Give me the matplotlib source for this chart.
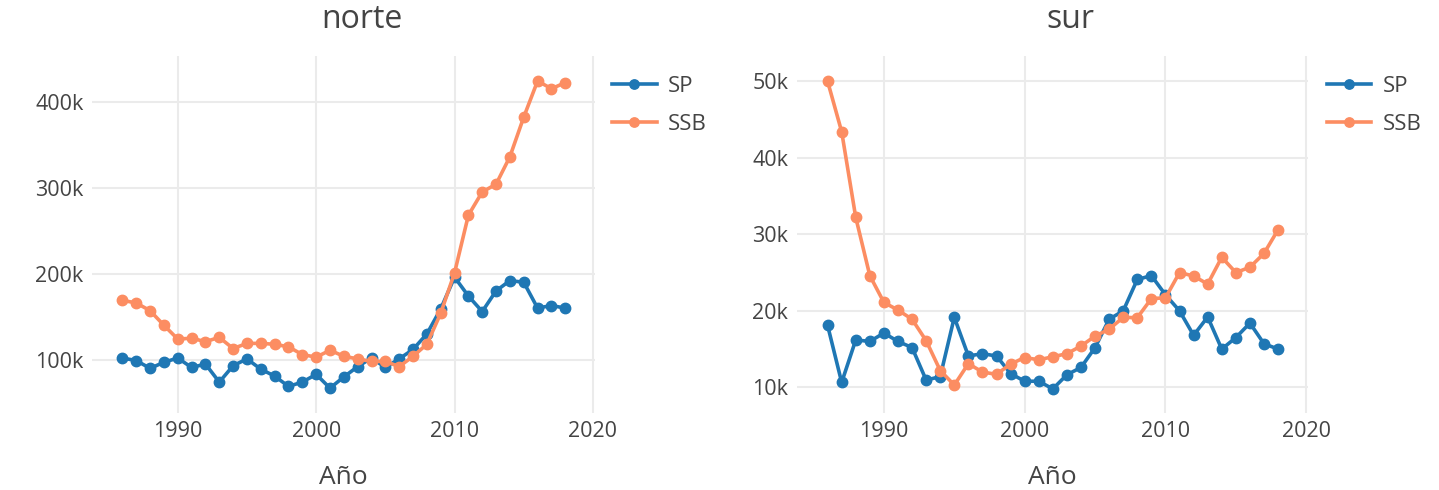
import matplotlib.pyplot as plt
from matplotlib.ticker import FuncFormatter

plt.rcParams["font.family"] = ["Open Sans", "DejaVu Sans"]

years = list(range(1986, 2019))

# norte
norte_sp = [102, 99, 90, 97, 102, 91, 95, 74, 93, 101, 89, 81, 69, 74, 83, 67, 80,
            92, 102, 91, 101, 112, 130, 159, 196, 174, 156, 180, 192, 190, 160, 163, 160]
norte_ssb = [169, 166, 157, 140, 124, 125, 121, 126, 113, 119, 119, 118, 115, 106, 103, 111, 104,
             101, 98, 98, 92, 104, 118, 154, 201, 268, 295, 304, 336, 382, 424, 415, 422]

# sur
sur_sp = [18.1, 10.65, 16.2, 16.0, 17.1, 16.0, 15.2, 10.95, 11.4, 19.15, 14.1, 14.4, 14.1, 11.8,
          10.8, 10.8, 9.8, 11.65, 12.6, 15.2, 18.9, 20.0, 24.1, 24.6, 22.1, 20.0, 16.8, 19.2,
          15.0, 16.5, 18.4, 15.7, 15.0]
sur_ssb = [50.0, 43.4, 32.2, 24.6, 21.1, 20.1, 18.9, 16.1, 12.2, 10.3, 13.1, 12.0, 11.7, 13.05,
           13.9, 13.6, 14.0, 14.4, 15.4, 16.7, 17.6, 19.15, 19.1, 21.6, 21.7, 25.0, 24.55, 23.5,
           27.0, 25.0, 25.7, 27.5, 30.6]

blue = "#1f77b4"
orange = "#fc8d62"
txt = "#444444"

fig = plt.figure(figsize=(14.39, 4.9), dpi=100)

panels = [
    ("norte", norte_sp, norte_ssb, [0.0639, 0.157, 0.3496, 0.7287], (38, 453), [100, 200, 300, 400], 362, 1.034),
    ("sur", sur_sp, sur_ssb, [0.5536, 0.157, 0.3556, 0.7287], (6.64, 53.3), [10, 20, 30, 40, 50], 1070, 1.036),
]

for title, sp, ssb, rect, ylim, yt, tx, lx in panels:
    ax = fig.add_axes(rect)
    ax.plot(years, sp, color=blue, lw=2.6, marker="o", ms=7.5, label="SP", zorder=3)
    ax.plot(years, ssb, color=orange, lw=2.6, marker="o", ms=7.5, label="SSB", zorder=3)
    ax.set_xlim(1983.8, 2020.15)
    ax.set_ylim(*ylim)
    ax.set_xticks([1990, 2000, 2010, 2020])
    ax.set_yticks(yt)
    ax.yaxis.set_major_formatter(FuncFormatter(lambda v, p: f"{int(v)}k"))
    ax.grid(True, color="#ebebeb", lw=1.5)
    ax.set_axisbelow(True)
    for s in ax.spines.values():
        s.set_visible(False)
    ax.tick_params(length=0, labelsize=15.5, labelcolor=txt, pad=6)
    ax.set_xlabel("Año", fontsize=19, color=txt, labelpad=16)
    fig.text(tx / 1439, 1 - 20 / 490, title, fontsize=23, color=txt, ha="center", va="center")
    ax.legend(loc="upper left", bbox_to_anchor=(lx, 0.945), frameon=False, fontsize=16,
              handlelength=2.0, labelcolor=txt, labelspacing=0.78, handletextpad=0.5,
              borderpad=0, borderaxespad=0, markerscale=0.9)

fig.savefig("out.png", dpi=100)
